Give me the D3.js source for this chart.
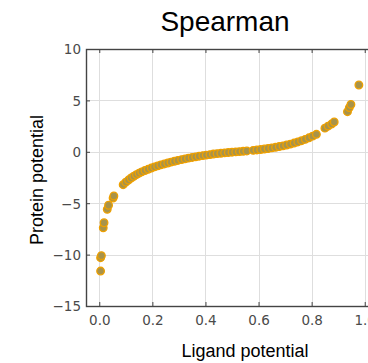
<!DOCTYPE html>
<html>
<head>
<meta charset="utf-8">
<script src="https://cdn.jsdelivr.net/npm/d3@7"></script>
<style>
  body { margin: 0; background: #fff; }
  svg { display: block; }
</style>
</head>
<body>
<div id="chart"></div>
<script>
// Spearman scatter: ligand potential vs protein potential

const ligand = [
  0.005, 0.005, 0.008, 0.015, 0.018, 0.030, 0.035, 0.052, 0.055,
  0.090, 0.100, 0.110, 0.120, 0.130, 0.140, 0.150, 0.160, 0.172, 0.184,
  0.196, 0.208, 0.220, 0.232, 0.245, 0.258, 0.270, 0.283, 0.296, 0.310,
  0.323, 0.336, 0.350, 0.363, 0.376, 0.390, 0.403, 0.417, 0.430, 0.444,
  0.458, 0.472, 0.486, 0.500, 0.514, 0.528, 0.542, 0.556, 0.580, 0.594,
  0.608, 0.622, 0.636, 0.650, 0.664, 0.678, 0.692, 0.706, 0.720, 0.734,
  0.748, 0.762, 0.776, 0.790, 0.804, 0.818, 0.850, 0.862, 0.875, 0.885,
  0.935, 0.942, 0.948, 0.978
];

const protein = [
  -11.6, -10.3, -10.1, -7.4, -6.9, -5.6, -5.2, -4.5, -4.3,
  -3.20, -2.95, -2.75, -2.55, -2.38, -2.22, -2.08, -1.95, -1.82, -1.70,
  -1.58, -1.47, -1.37, -1.27, -1.18, -1.09, -1.00, -0.92, -0.84, -0.76,
  -0.69, -0.62, -0.55, -0.49, -0.43, -0.37, -0.32, -0.27, -0.22, -0.18,
  -0.14, -0.10, -0.07, -0.04, -0.01, 0.02, 0.05, 0.08, 0.14, 0.18,
  0.22, 0.27, 0.32, 0.38, 0.44, 0.51, 0.58, 0.66, 0.75, 0.85,
  0.96, 1.08, 1.21, 1.36, 1.52, 1.70, 2.30, 2.50, 2.70, 2.90,
  3.90, 4.30, 4.60, 6.50
];

const xTicks = [0.0, 0.2, 0.4, 0.6, 0.8, 1.0];
const yTicks = [-15, -10, -5, 0, 5, 10];

const title = "Spearman";
const xLabel = "Ligand potential";
const yLabel = "Protein potential";

const width = 368, height = 363;
const plot = {left: 86, top: 49, right: 378, bottom: 306};

const svg = d3.select("#chart").append("svg")
  .attr("width", width)
  .attr("height", height);

const x = d3.scaleLinear().domain([-0.05, 1.05]).range([plot.left, plot.right]);
const y = d3.scaleLinear().domain([-15, 10]).range([plot.bottom, plot.top]);

// grid
const grid = svg.append("g").attr("stroke", "#dedede").attr("stroke-width", 1);
grid.selectAll(".gx").data(xTicks).enter().append("line")
  .attr("x1", d => Math.round(x(d)) + 0.5).attr("x2", d => Math.round(x(d)) + 0.5)
  .attr("y1", plot.top).attr("y2", plot.bottom);
grid.selectAll(".gy").data(yTicks).enter().append("line")
  .attr("y1", d => Math.round(y(d)) + 0.5).attr("y2", d => Math.round(y(d)) + 0.5)
  .attr("x1", plot.left).attr("x2", plot.right);

// axes (ticks pointing inward, matplotlib style)
const fmtX = d3.format(".1f");
const xAxis = svg.append("g")
  .attr("transform", `translate(0,${plot.bottom})`)
  .call(d3.axisBottom(x).tickValues(xTicks).tickFormat(fmtX).tickSizeInner(-4).tickSizeOuter(0).tickPadding(9));
const xAxisTop = svg.append("g")
  .attr("transform", `translate(0,${plot.top})`)
  .call(d3.axisTop(x).tickValues(xTicks).tickFormat("").tickSizeInner(-4).tickSizeOuter(0));
const yAxis = svg.append("g")
  .attr("transform", `translate(${plot.left},0)`)
  .call(d3.axisLeft(y).tickValues(yTicks).tickFormat(d3.format("d")).tickSizeInner(-4).tickSizeOuter(0).tickPadding(5));

[xAxis, xAxisTop, yAxis].forEach(g => {
  g.select(".domain").remove();
  g.selectAll(".tick line").attr("stroke", "#444");
  g.selectAll("text")
    .attr("fill", "#4a4a4a")
    .style("font-family", "'DejaVu Sans', sans-serif")
    .style("font-size", "13.5px");
});
yAxis.selectAll("text").attr("dy", "0.36em");

// frame
svg.append("rect")
  .attr("x", plot.left + 0.5).attr("y", plot.top + 0.5)
  .attr("width", plot.right - plot.left).attr("height", plot.bottom - plot.top)
  .attr("fill", "none").attr("stroke", "#444").attr("stroke-width", 1.4);

// points
svg.append("g").selectAll("circle")
  .data(ligand.map((d, i) => [d, protein[i]]))
  .enter().append("circle")
  .attr("cx", d => x(d[0]))
  .attr("cy", d => y(d[1]))
  .attr("r", 3.8)
  .attr("fill", "#a8934a")
  .attr("stroke", "#eea000")
  .attr("stroke-width", 1.3);

// labels
svg.append("text")
  .attr("x", 225).attr("y", 31)
  .attr("text-anchor", "middle")
  .style("font-family", "Arial, 'Liberation Sans', sans-serif")
  .style("font-size", "28px")
  .text(title);

svg.append("text")
  .attr("x", 245).attr("y", 357)
  .attr("text-anchor", "middle")
  .style("font-family", "Arial, 'Liberation Sans', sans-serif")
  .style("font-size", "18px")
  .text(xLabel);

svg.append("text")
  .attr("transform", "translate(43,180) rotate(-90)")
  .attr("text-anchor", "middle")
  .style("font-family", "Arial, 'Liberation Sans', sans-serif")
  .style("font-size", "18px")
  .text(yLabel);
</script>
</body>
</html>
